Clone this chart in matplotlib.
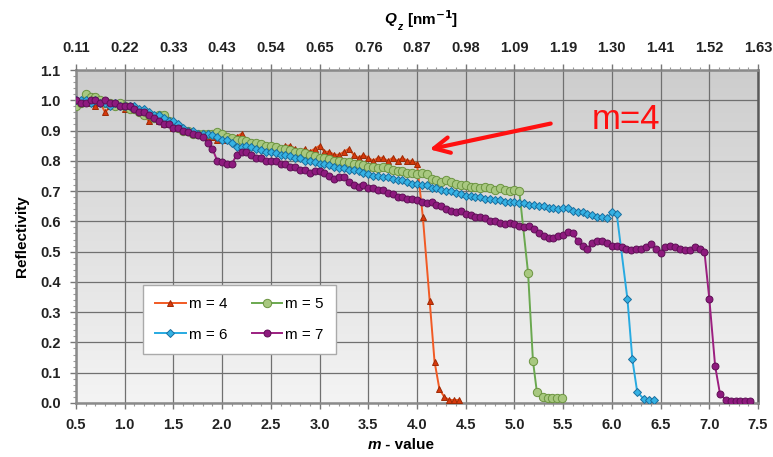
import numpy as np
import matplotlib
matplotlib.use("Agg")
import matplotlib.pyplot as plt

plt.rcParams['font.family'] = ['Liberation Sans', 'DejaVu Sans']

# m-value grid step of the measurement
M_START = 0.5
M_STEP = 0.05

# reflectivity on the plateau, one value per grid step
r_m4 = [1.00, 0.99, 1.00, 0.99, 0.98, 0.99, 0.96, 0.98, 0.98, 0.98,
        0.97, 0.97, 0.97, 0.96, 0.95, 0.93, 0.94, 0.93, 0.92, 0.92,
        0.91, 0.91, 0.90, 0.90, 0.89, 0.89, 0.89, 0.88, 0.88, 0.87,
        0.88, 0.87, 0.88, 0.88, 0.89, 0.87, 0.86, 0.86, 0.86, 0.85,
        0.85, 0.85, 0.84, 0.85, 0.85, 0.84, 0.83, 0.84, 0.83, 0.84,
        0.85, 0.83, 0.83, 0.82, 0.82, 0.83, 0.84, 0.82, 0.81, 0.82,
        0.81, 0.80, 0.81, 0.81, 0.80, 0.81, 0.80, 0.81, 0.80, 0.80,
        0.79]
r_m5 = [0.98, 0.99, 1.02, 1.01, 1.01, 1.00, 0.99, 0.99, 0.98, 0.99,
        0.98, 0.97, 0.97, 0.96, 0.95, 0.95, 0.94, 0.95, 0.95, 0.93,
        0.92, 0.91, 0.90, 0.90, 0.89, 0.89, 0.89, 0.89, 0.89, 0.895,
        0.89, 0.88, 0.875, 0.87, 0.87, 0.865, 0.86, 0.86, 0.855, 0.85,
        0.85, 0.845, 0.84, 0.84, 0.835, 0.83, 0.83, 0.825, 0.82, 0.815,
        0.81, 0.81, 0.805, 0.80, 0.80, 0.795, 0.795, 0.79, 0.79, 0.785,
        0.78, 0.78, 0.775, 0.78, 0.775, 0.77, 0.765, 0.765, 0.76, 0.76,
        0.755, 0.76, 0.755, 0.74, 0.735, 0.73, 0.735, 0.73, 0.725, 0.72,
        0.72, 0.715, 0.715, 0.71, 0.715, 0.71, 0.705, 0.71, 0.705, 0.70,
        0.705, 0.70]
r_m6 = [1.00, 1.00, 1.00, 0.99, 1.00, 0.99, 0.99, 0.98, 0.99, 0.98,
        0.98, 0.98, 0.98, 0.97, 0.97, 0.96, 0.95, 0.95, 0.94, 0.93,
        0.93, 0.92, 0.91, 0.90, 0.90, 0.89, 0.89, 0.89, 0.885, 0.88,
        0.87, 0.87, 0.86, 0.845, 0.845, 0.85, 0.845, 0.84, 0.835, 0.83,
        0.83, 0.825, 0.82, 0.82, 0.815, 0.81, 0.81, 0.80, 0.80, 0.795,
        0.79, 0.79, 0.785, 0.78, 0.775, 0.775, 0.77, 0.77, 0.765, 0.76,
        0.755, 0.75, 0.75, 0.745, 0.745, 0.74, 0.735, 0.735, 0.73, 0.725,
        0.725, 0.72, 0.72, 0.71, 0.71, 0.705, 0.70, 0.70, 0.695, 0.69,
        0.685, 0.685, 0.68, 0.68, 0.675, 0.675, 0.67, 0.67, 0.665, 0.665,
        0.665, 0.66, 0.66, 0.655, 0.655, 0.65, 0.65, 0.645, 0.645, 0.64,
        0.645, 0.645, 0.635, 0.63, 0.63, 0.625, 0.62, 0.615, 0.615, 0.61,
        0.63, 0.625]
r_m7 = [1.00, 0.99, 0.99, 1.00, 1.00, 0.99, 1.00, 0.99, 0.99, 0.98,
        0.98, 0.98, 0.97, 0.96, 0.96, 0.95, 0.94, 0.93, 0.92, 0.92,
        0.91, 0.91, 0.90, 0.895, 0.89, 0.885, 0.88, 0.86, 0.84, 0.80,
        0.795, 0.79, 0.79, 0.82, 0.83, 0.83, 0.82, 0.81, 0.81, 0.80,
        0.80, 0.80, 0.79, 0.79, 0.78, 0.78, 0.77, 0.77, 0.76, 0.765,
        0.765, 0.76, 0.75, 0.74, 0.745, 0.745, 0.73, 0.72, 0.715, 0.72,
        0.71, 0.71, 0.705, 0.705, 0.695, 0.69, 0.68, 0.68, 0.675, 0.675,
        0.67, 0.665, 0.66, 0.665, 0.655, 0.65, 0.64, 0.635, 0.63, 0.635,
        0.625, 0.62, 0.615, 0.615, 0.61, 0.60, 0.60, 0.595, 0.59, 0.595,
        0.59, 0.585, 0.58, 0.585, 0.575, 0.56, 0.55, 0.545, 0.545, 0.55,
        0.555, 0.565, 0.56, 0.535, 0.52, 0.51, 0.53, 0.535, 0.535, 0.53,
        0.52, 0.52, 0.515, 0.51, 0.505, 0.51, 0.51, 0.515, 0.525, 0.51,
        0.495, 0.515, 0.52, 0.515, 0.51, 0.505, 0.505, 0.515, 0.51, 0.50]

# cut-off points after the plateau
tail_m4_x = [4.06, 4.13, 4.18, 4.23, 4.28, 4.33, 4.38, 4.43]
tail_m4_y = [0.615, 0.338, 0.137, 0.046, 0.02, 0.01, 0.01, 0.01]
tail_m5_x = [5.14, 5.19, 5.23, 5.29, 5.34, 5.39, 5.44, 5.49]
tail_m5_y = [0.43, 0.14, 0.037, 0.02, 0.015, 0.015, 0.015, 0.015]
tail_m6_x = [6.16, 6.21, 6.26, 6.33, 6.38, 6.43]
tail_m6_y = [0.343, 0.145, 0.037, 0.012, 0.01, 0.01]
tail_m7_x = [7.0, 7.06, 7.11, 7.17, 7.22, 7.27, 7.32, 7.37, 7.42]
tail_m7_y = [0.345, 0.122, 0.03, 0.01, 0.008, 0.008, 0.008, 0.008, 0.008]

m_ticks = [0.5, 1.0, 1.5, 2.0, 2.5, 3.0, 3.5, 4.0, 4.5, 5.0, 5.5, 6.0, 6.5, 7.0, 7.5]
qz_labels = ['0.11', '0.22', '0.33', '0.43', '0.54', '0.65', '0.76', '0.87',
             '0.98', '1.09', '1.19', '1.30', '1.41', '1.52', '1.63']
r_ticks = [0.0, 0.1, 0.2, 0.3, 0.4, 0.5, 0.6, 0.7, 0.8, 0.9, 1.0, 1.1]


def series(plateau, tail_x, tail_y):
    """Joins the plateau on the m grid with the cut-off points"""
    x = np.round(M_START + M_STEP * np.arange(len(plateau)), 3)
    return np.concatenate([x, tail_x]), np.concatenate([plateau, tail_y])


fig = plt.figure(figsize=(7.73, 4.57), dpi=100)
ax = fig.add_axes([0.0983, 0.1182, 0.8823, 0.7286])
ax.set_xlim(0.5, 7.5)
ax.set_ylim(0.0, 1.1)

# grey gradient background
grad = np.linspace(0, 1, 256).reshape(-1, 1)
ax.imshow(grad, cmap=matplotlib.colors.LinearSegmentedColormap.from_list(
    'bg', ['#f4f4f4', '#cdcdcd']), extent=[0.5, 7.5, 0.0, 1.1],
    aspect='auto', origin='lower', zorder=0)

styles = [
    ('m = 4', r_m4, tail_m4_x, tail_m4_y, '#f15a24', '^', '#d8380c', '#9c2a05', 5),
    ('m = 5', r_m5, tail_m5_x, tail_m5_y, '#6aa84f', 'o', '#a8c880', '#6b9440', 6),
    ('m = 6', r_m6, tail_m6_x, tail_m6_y, '#27aae1', 'D', '#35b2e4', '#1a6e9e', 4),
    ('m = 7', r_m7, tail_m7_x, tail_m7_y, '#9c1f80', 'o', '#8e1a7e', '#5e0f55', 5),
]
handles = {}
for lab, plat, tx, ty, lc, mk, fc, ec, ms in styles:
    x, y = series(plat, tx, ty)
    h, = ax.plot(x, y, color=lc, lw=1.4, marker=mk, ms=ms, mfc=fc, mec=ec,
                 mew=0.7, label=lab, zorder=3)
    handles[lab] = h

ax.grid(True, which='major', color='#707070', lw=0.9, zorder=1)
ax.set_axisbelow(True)
ax.set_xticks(m_ticks)
ax.set_xticklabels([f'{v:.1f}' for v in m_ticks])
ax.set_yticks(r_ticks)
ax.set_yticklabels([f'{v:.1f}' for v in r_ticks])
ax.set_xticks(np.round(np.arange(0.5, 7.51, 0.1), 2), minor=True)
ax.set_yticks(np.round(np.arange(0.0, 1.101, 0.02), 2), minor=True)
ax.tick_params(which='major', length=4, width=1, color='#777777', pad=7,
               labelsize=10.5)
ax.tick_params(which='minor', length=2.5, width=0.8, color='#999999')
for lbl in ax.get_xticklabels() + ax.get_yticklabels():
    lbl.set_fontweight('bold')
    lbl.set_color('#222222')

for side in ['left', 'bottom', 'top']:
    ax.spines[side].set_color('#8a8a8a')
    ax.spines[side].set_linewidth(1.8)
ax.spines['right'].set_color('#5a5a5a')
ax.spines['right'].set_linewidth(1.8)

ax.set_ylabel('Reflectivity', fontsize=11, fontweight='bold', labelpad=8)

# x label with italic m
ax.annotate('m', xy=(0.5, 0), xycoords='axes fraction', xytext=(-26, -30),
            textcoords='offset points', ha='right', va='center', fontsize=11,
            fontweight='bold', style='italic')
ax.annotate(' - value', xy=(0.5, 0), xycoords='axes fraction', xytext=(-26, -30),
            textcoords='offset points', ha='left', va='center', fontsize=11,
            fontweight='bold')

top = ax.twiny()
top.set_xlim(ax.get_xlim())
top.set_xticks(m_ticks)
top.set_xticklabels(qz_labels)
top.set_xticks(np.round(np.arange(0.5, 7.51, 0.1), 2), minor=True)
top.tick_params(which='major', length=4, width=1, color='#777777', pad=7,
                labelsize=10.5)
top.tick_params(which='minor', length=2.5, width=0.8, color='#999999')
for lbl in top.get_xticklabels():
    lbl.set_fontweight('bold')
    lbl.set_color('#222222')
for s in top.spines.values():
    s.set_visible(False)
fig.text(0.513, 0.958, 'Q', fontsize=11, fontweight='bold', style='italic',
         ha='right', va='center')
fig.text(0.513, 0.952, 'z', fontsize=7.5, fontweight='bold', style='italic',
         ha='left', va='top')
fig.text(0.527, 0.958, '[nm$^{\\mathbf{-1}}$]', fontsize=11, fontweight='bold',
         ha='left', va='center')

order = ['m = 4', 'm = 6', 'm = 5', 'm = 7']
leg = ax.legend([handles[k] for k in order], order, loc='lower left',
                bbox_to_anchor=(0.098, 0.147), ncol=2,
                fontsize=11, frameon=True, fancybox=False, labelspacing=1.1,
                handlelength=2.0, handletextpad=0.2, columnspacing=1.6,
                borderpad=0.8, borderaxespad=0)
leg.get_frame().set_edgecolor('#aaaaaa')
leg.get_frame().set_linewidth(1)
leg.get_frame().set_facecolor('white')
leg.get_frame().set_alpha(1)

ax.annotate('', xy=(4.10, 0.836), xytext=(5.40, 0.925),
            arrowprops=dict(arrowstyle='->', color='#ff1010', lw=3,
                            mutation_scale=28), zorder=5)
ax.text(6.14, 0.935, 'm=4', color='#ff1010', fontsize=25, ha='center',
        va='center', zorder=5)

fig.savefig('out.png', dpi=100)
